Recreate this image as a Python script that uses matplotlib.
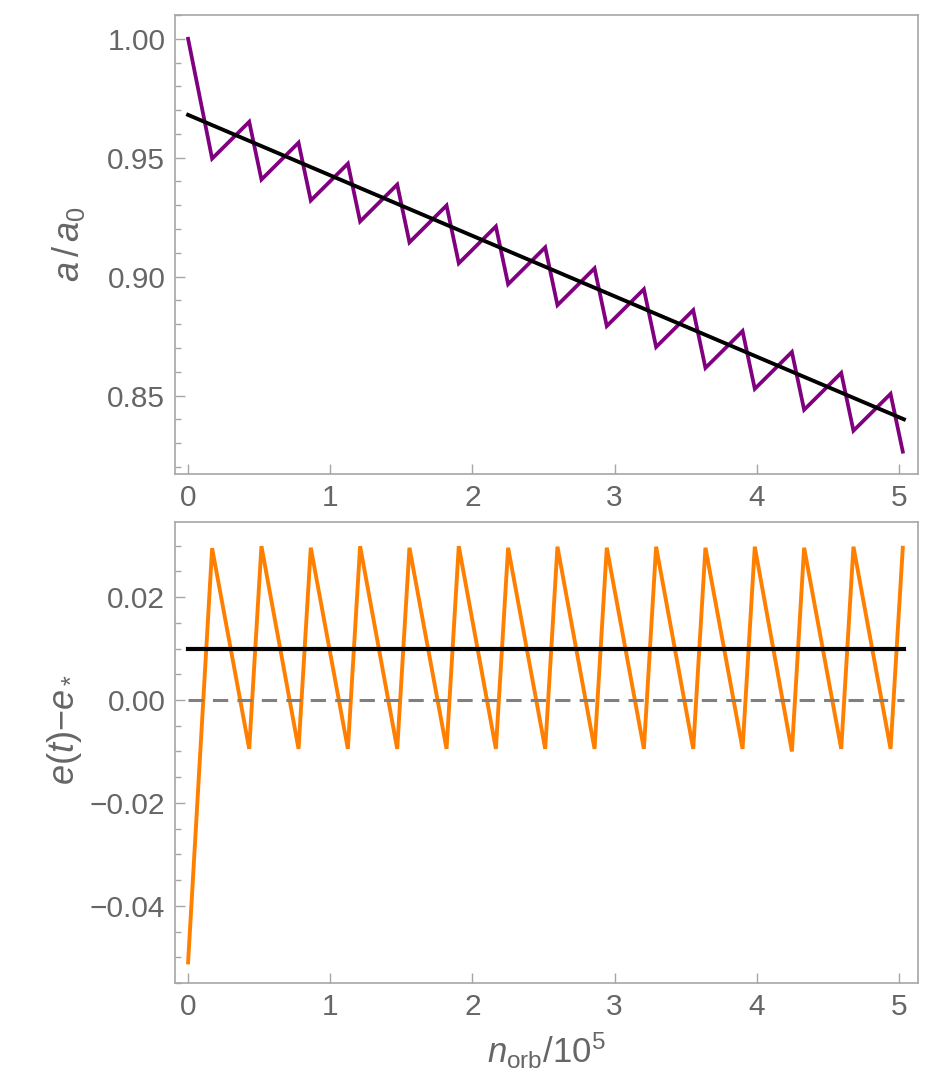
import matplotlib.pyplot as plt
import numpy as np

plt.rcParams['font.family'] = ['Liberation Sans', 'DejaVu Sans']
plt.rcParams['mathtext.fontset'] = 'custom'
plt.rcParams['mathtext.rm'] = 'Liberation Sans'
plt.rcParams['mathtext.it'] = 'Liberation Sans:italic'

# orbit number (units of 1e5) at the kinks of the sawtooth
n_orb = [0.000, 0.169, 0.430, 0.516, 0.777, 0.863, 1.124, 1.210, 1.471, 1.557,
         1.818, 1.904, 2.165, 2.251, 2.512, 2.598, 2.859, 2.945, 3.206, 3.292,
         3.553, 3.639, 3.900, 3.986, 4.247, 4.333, 4.594, 4.680, 4.941, 5.027]

# semi-major axis a/a0
a_ratio = [1.0000, 0.9496, 0.9651, 0.9408, 0.9563, 0.9320, 0.9475, 0.9232, 0.9387, 0.9144,
           0.9299, 0.9056, 0.9211, 0.8968, 0.9123, 0.8880, 0.9035, 0.8792, 0.8947, 0.8704,
           0.8859, 0.8616, 0.8771, 0.8528, 0.8683, 0.8440, 0.8595, 0.8352, 0.8507, 0.8264]

# eccentricity offset e(t) - e*
de = [-0.0510, 0.0295, -0.0095, 0.0299, -0.0095, 0.0296, -0.0095, 0.0299, -0.0095, 0.0296,
      -0.0095, 0.0299, -0.0095, 0.0296, -0.0095, 0.0298, -0.0095, 0.0296, -0.0095, 0.0298,
      -0.0095, 0.0296, -0.0095, 0.0298, -0.0100, 0.0296, -0.0095, 0.0298, -0.0095, 0.0296]

# averaged trends
fit_x = [0.0, 5.035]
fit_a = [0.968, 0.840]
mean_de = [0.010, 0.010]
zero_de = [0.0, 0.0]

gray_txt = '#666666'
frame_col = '#a6a6a6'

fig = plt.figure(figsize=(9.48, 10.78), dpi=100)
ax1 = fig.add_axes([175/948, 1-474/1078, (918-175)/948, (474-15)/1078])
ax2 = fig.add_axes([175/948, 1-983/1078, (918-175)/948, (983-522)/1078])

ax1.plot(n_orb, a_ratio, color='#800080', lw=2.7, solid_joinstyle='miter')
ax1.plot(fit_x, fit_a, color='black', lw=2.8)

ax2.plot(n_orb, de, color='#ff8000', lw=2.8, solid_joinstyle='miter')
ax2.plot(fit_x, mean_de, color='black', lw=3.0)
ax2.plot(fit_x, zero_de, color='#808080', lw=2.2, ls=(0, (5, 3)))

ax1.set_xlim(-0.092, 5.134)
ax1.set_ylim(0.817, 1.0097)
ax1.set_yticks([0.85, 0.90, 0.95, 1.00])
ax1.set_yticks(np.arange(0.82, 1.011, 0.01), minor=True)
ax1.set_yticklabels(['0.85', '0.90', '0.95', '1.00'])

ax2.set_xlim(-0.092, 5.134)
ax2.set_ylim(-0.055, 0.0346)
ax2.set_yticks([-0.04, -0.02, 0.0, 0.02])
ax2.set_yticks(np.arange(-0.055, 0.035, 0.005), minor=True)
ax2.set_yticklabels(['\u22120.04', '\u22120.02', '0.00', '0.02'])

for ax in (ax1, ax2):
    ax.set_xticks([0, 1, 2, 3, 4, 5])
    ax.tick_params(axis='both', which='major', direction='in', length=7, width=1,
                   color=frame_col, labelcolor=gray_txt, labelsize=21.5, pad=7)
    ax.tick_params(axis='y', which='minor', direction='in', length=4.5, width=1,
                   color=frame_col)
    ax.tick_params(axis='x', which='minor', bottom=False)
    for sp in ax.spines.values():
        sp.set_color(frame_col)
        sp.set_linewidth(1.2)

ax1.set_ylabel(r'$a\,/\,a_0$', fontsize=26, color=gray_txt, labelpad=4)
ax2.set_ylabel(r'$e(t)\mathrm{-}e_*$', fontsize=26, color=gray_txt, labelpad=2)
ax2.set_xlabel(r'$n_{\mathrm{orb}}/10^5$', fontsize=25, color=gray_txt, labelpad=7)
ax1.yaxis.set_label_coords(-0.118, 0.5)
ax2.yaxis.set_label_coords(-0.122, 0.55)

fig.savefig('out.png', dpi=100)
